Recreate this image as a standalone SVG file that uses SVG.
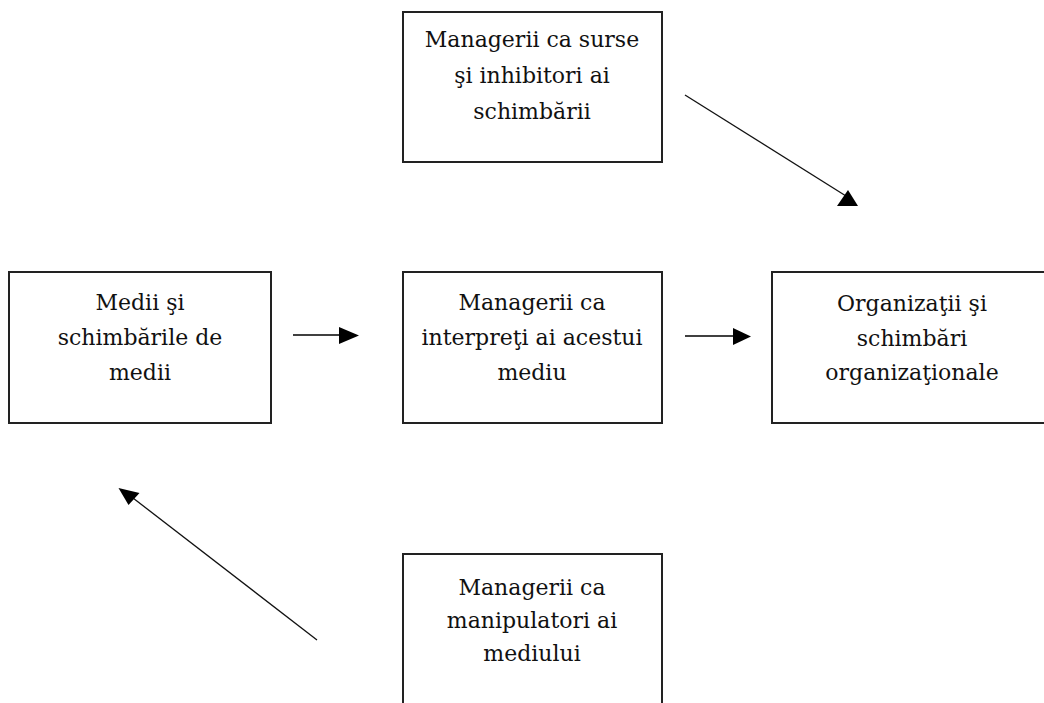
<svg xmlns="http://www.w3.org/2000/svg" width="1044" height="703" viewBox="0 0 1044 703">
  <style>
    .box { fill: #ffffff; stroke: #222222; stroke-width: 2; }
    .lbl { font-family: "DejaVu Serif", "Liberation Serif", serif; font-size: 22px; fill: #111111; text-anchor: middle; }
    .line { stroke: #000000; stroke-width: 1.6; fill: none; }
    .thin { stroke: #111111; stroke-width: 1.3; fill: none; }
    .head { fill: #000000; stroke: none; }
  </style>
  <rect x="0" y="0" width="1044" height="703" fill="#ffffff"/>

  <g id="node-sources">
    <rect class="box" x="403" y="12" width="259" height="150"/>
    <text class="lbl" x="532" y="47">Managerii ca surse</text>
    <text class="lbl" x="532" y="83">şi inhibitori ai</text>
    <text class="lbl" x="532" y="119">schimbării</text>
  </g>

  <g id="node-environment">
    <rect class="box" x="9" y="272" width="262" height="151"/>
    <text class="lbl" x="140" y="310">Medii şi</text>
    <text class="lbl" x="140" y="345">schimbările de</text>
    <text class="lbl" x="140" y="380">medii</text>
  </g>

  <g id="node-interpreters">
    <rect class="box" x="403" y="272" width="259" height="151"/>
    <text class="lbl" x="532" y="310">Managerii ca</text>
    <text class="lbl" x="532" y="345">interpreţi ai acestui</text>
    <text class="lbl" x="532" y="380">mediu</text>
  </g>

  <g id="node-organizations">
    <rect class="box" x="772" y="272" width="290" height="151"/>
    <text class="lbl" x="912" y="311">Organizaţii şi</text>
    <text class="lbl" x="912" y="346">schimbări</text>
    <text class="lbl" x="912" y="380">organizaţionale</text>
  </g>

  <g id="node-manipulators">
    <rect class="box" x="403" y="554" width="259" height="170"/>
    <text class="lbl" x="532" y="595">Managerii ca</text>
    <text class="lbl" x="532" y="628">manipulatori ai</text>
    <text class="lbl" x="532" y="661">mediului</text>
  </g>

  <g id="connectors">
    <!-- environment -> interpreters -->
    <line class="line" x1="293" y1="335" x2="342" y2="335"/>
    <polygon class="head" points="339,327 359,335.5 339,344"/>
    <!-- interpreters -> organizations -->
    <line class="line" x1="685" y1="336" x2="736" y2="336"/>
    <polygon class="head" points="733,328 751,336.5 733,345"/>
    <!-- sources -> organizations -->
    <line class="thin" x1="685" y1="95" x2="846" y2="196"/>
    <polygon class="head" points="848,190 858,206 837,206"/>
    <!-- manipulators -> environment -->
    <line class="thin" x1="317" y1="640" x2="133" y2="498"/>
    <polygon class="head" points="118.5,488 139.5,493 128.5,505"/>
  </g>
</svg>
